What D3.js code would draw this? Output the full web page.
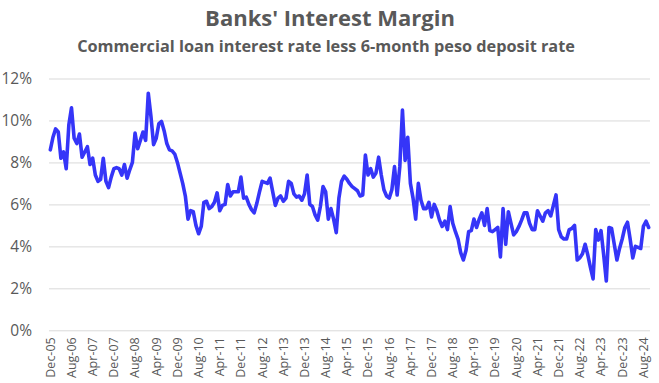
<!DOCTYPE html>
<html>
<head>
<meta charset="utf-8">
<script src="https://cdn.jsdelivr.net/npm/d3@7"></script>
<style>
  html, body { margin: 0; padding: 0; background: #fff; }
  svg { display: block; font-family: "Open Sans", sans-serif; }
</style>
</head>
<body>
<div id="chart"></div>
<script>
// monthly margin, Dec-05 .. Oct-24 (percent)
var margin = [
	8.6, 9.2, 9.6, 9.45, 8.2, 8.5, 7.7, 9.8, 10.6, 9.15, 8.9, 9.35,
	8.25, 8.5, 8.75, 7.9, 8.2, 7.4, 7.1, 7.2, 8.2, 7.1, 6.8, 7.3,
	7.7, 7.75, 7.7, 7.4, 7.9, 7.25, 7.65, 8.0, 9.4, 8.65, 9.05, 9.45,
	9.05, 11.3, 10.2, 8.85, 9.15, 9.85, 9.95, 9.5, 8.9, 8.6, 8.55, 8.4,
	8.0, 7.5, 7.0, 6.4, 5.3, 5.7, 5.65, 5.0, 4.6, 4.95, 6.1, 6.15,
	5.8, 5.9, 6.1, 6.55, 5.7, 5.95, 6.0, 6.95, 6.4, 6.6, 6.6, 6.6,
	7.3, 6.3, 6.35, 6.0, 5.75, 5.6, 6.05, 6.6, 7.1, 7.05, 7.0, 7.25,
	6.6, 5.95, 6.3, 6.4, 6.15, 6.3, 7.1, 7.0, 6.5, 6.35, 6.4, 6.2,
	6.5, 7.4, 6.0, 5.9, 5.5, 5.25, 5.9, 6.85, 6.6, 5.3, 5.8, 5.3,
	4.65, 6.3, 7.1, 7.35, 7.2, 7.0, 6.85, 6.75, 6.65, 6.4, 6.45, 8.35,
	7.4, 7.7, 7.3, 7.5, 8.25, 7.4, 6.7, 6.4, 6.3, 6.7, 7.8, 6.45,
	7.8, 10.5, 8.1, 9.2, 7.0, 6.3, 5.3, 7.0, 6.2, 5.8, 5.8, 6.1,
	5.4, 6.0, 5.7, 5.25, 4.95, 5.2, 4.8, 5.9, 5.1, 4.7, 4.35, 3.7,
	3.35, 3.8, 4.7, 4.75, 5.3, 4.9, 5.3, 5.6, 5.0, 5.8, 4.75, 4.7,
	4.8, 4.9, 3.5, 5.8, 4.1, 5.65, 5.1, 4.55, 4.7, 4.95, 5.25, 5.6,
	5.6, 5.1, 4.8, 4.8, 5.7, 5.45, 5.2, 5.6, 5.7, 5.45, 5.95, 6.45,
	4.8, 4.45, 4.35, 4.35, 4.8, 4.85, 5.0, 3.35, 3.45, 3.65, 4.1, 3.6,
	3.0, 2.45, 4.8, 4.3, 4.75, 3.6, 2.35, 4.9, 4.85, 4.1, 3.35, 3.9,
	4.35, 4.9, 5.15, 4.35, 3.45, 4.0, 3.95, 3.9, 4.95, 5.2, 4.9
];

var fmt = d3.timeFormat("%b-%y");
var months = d3.timeMonth.range(new Date(2005, 11, 1), new Date(2005, 11 + margin.length, 1)).map(fmt);

var tickLabels = ["Dec-05", "Aug-06", "Apr-07", "Dec-07", "Aug-08", "Apr-09", "Dec-09", "Aug-10",
	"Apr-11", "Dec-11", "Aug-12", "Apr-13", "Dec-13", "Aug-14", "Apr-15", "Dec-15", "Aug-16",
	"Apr-17", "Dec-17", "Aug-18", "Apr-19", "Dec-19", "Aug-20", "Apr-21", "Dec-21", "Aug-22",
	"Apr-23", "Dec-23", "Aug-24"];
var yTicks = [0, 2, 4, 6, 8, 10, 12];

var width = 659, height = 383;
var plotLeft = 49, plotRight = 650, plotTop = 78.5, plotBottom = 330.3;

var svg = d3.select("#chart").append("svg")
	.attr("width", width)
	.attr("height", height);

var x = d3.scaleBand().domain(months).range([plotLeft, plotRight]).padding(0);
var y = d3.scaleLinear().domain([0, 12]).range([plotBottom, plotTop]);

svg.append("text")
	.attr("x", 330)
	.attr("y", 26)
	.attr("text-anchor", "middle")
	.attr("font-size", 22)
	.attr("font-weight", "bold")
	.attr("fill", "#595959")
	.text("Banks' Interest Margin");

svg.append("text")
	.attr("x", 326)
	.attr("y", 52)
	.attr("text-anchor", "middle")
	.attr("font-size", 16.3)
	.attr("font-weight", "bold")
	.attr("fill", "#595959")
	.text("Commercial loan interest rate less 6-month peso deposit rate");

// gridlines + y labels
var yAxis = d3.axisLeft(y)
	.tickValues(yTicks)
	.tickSize(-(plotRight - plotLeft))
	.tickPadding(17)
	.tickFormat(function(d) { return d + "%"; });

var gy = svg.append("g")
	.attr("transform", "translate(" + plotLeft + ",0)")
	.call(yAxis);
gy.select(".domain").remove();
gy.selectAll(".tick line").attr("stroke", "#d9d9d9").attr("stroke-width", 1);
gy.selectAll(".tick text")
	.attr("fill", "#595959")
	.attr("font-size", 15.5)
	.attr("font-family", "Open Sans, sans-serif");

// x labels
var xAxis = d3.axisBottom(x)
	.tickValues(tickLabels)
	.tickSize(0)
	.tickPadding(0);

var gx = svg.append("g")
	.attr("transform", "translate(0," + plotBottom + ")")
	.call(xAxis);
gx.select(".domain").remove();
gx.selectAll(".tick text")
	.attr("fill", "#595959")
	.attr("font-size", 12.5)
	.attr("font-family", "Open Sans, sans-serif")
	.attr("text-anchor", "end")
	.attr("transform", "rotate(-90)")
	.attr("x", -7)
	.attr("y", 0)
	.attr("dy", "0.35em");

var line = d3.line()
	.x(function(d, i) { return x(months[i]) + x.bandwidth() / 2; })
	.y(function(d) { return y(d); });

svg.append("path")
	.datum(margin)
	.attr("fill", "none")
	.attr("stroke", "#3535f8")
	.attr("stroke-width", 3.6)
	.attr("stroke-linejoin", "round")
	.attr("stroke-linecap", "round")
	.attr("d", line);
</script>
</body>
</html>
